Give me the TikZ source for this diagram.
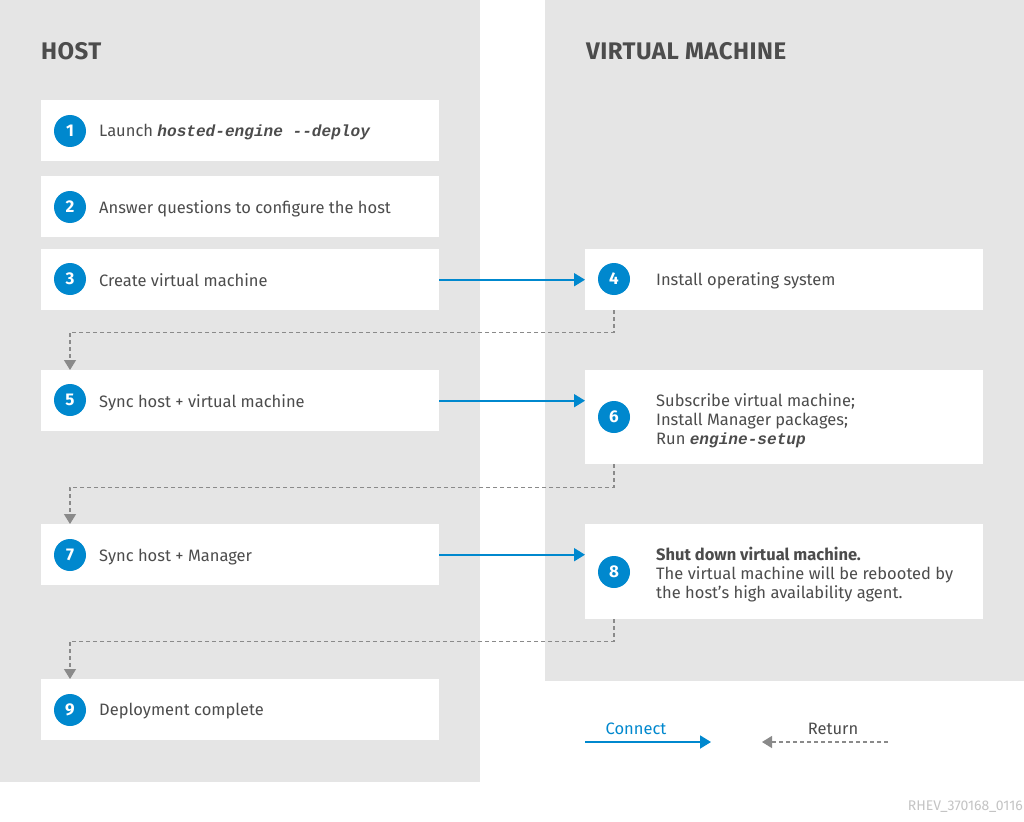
\documentclass[tikz,border=0pt]{standalone}
\usepackage{fontspec}
\setmainfont{Fira Sans}
\newfontfamily\monofont{Liberation Mono}
\newfontfamily\headfont[LetterSpace=2]{Fira Sans}
\usetikzlibrary{arrows.meta}
\definecolor{panel}{HTML}{E5E5E5}
\definecolor{txt}{HTML}{4C4C4C}
\definecolor{rhblue}{HTML}{0088CE}
\definecolor{retgray}{HTML}{8A8A8A}
\definecolor{faint}{HTML}{C4C4C4}
\newcommand{\cmd}[1]{{\fontsize{16.1}{19}\monofont\bfseries\itshape #1}}
\tikzset{
  box/.style={fill=white, draw=none, minimum width=398pt, anchor=north west, inner sep=0pt},
  num/.style={circle, fill=rhblue, minimum size=32pt, inner sep=0pt, text=white, font=\fontsize{17}{19}\selectfont\bfseries},
  lbl/.style={anchor=west, inner sep=0pt, yshift=-1.5pt, text=txt, align=left, font=\fontsize{16.5}{19}\selectfont},
  head/.style={anchor=base west, inner sep=0pt, text=txt, font=\fontsize{24}{27}\headfont\bfseries},
  connect/.style={draw=rhblue, line width=1.8pt, -{Triangle[length=11pt,width=13pt]}},
  ret/.style={draw=retgray, line width=1.3pt, dash pattern=on 4pt off 3pt, -{Triangle[length=10pt,width=12pt]}},
}
\begin{document}
\begin{tikzpicture}[x=1pt,y=-1pt]
\useasboundingbox (0,0) rectangle (1024,821);
\fill[white] (0,0) rectangle (1024,821);
\fill[panel] (0,0) rectangle (480,782);
\fill[panel] (545,0) rectangle (1024,681);

\node[head] (hhost) at (41,60) {HOST};
\node[head] (hvm) at (586,60) {VIRTUAL MACHINE};

% left boxes
\node[box, minimum height=61pt] (b1) at (41,100) {};
\node[box, minimum height=61pt] (b2) at (41,176) {};
\node[box, minimum height=61pt] (b3) at (41,249) {};
\node[box, minimum height=61pt] (b5) at (41,370) {};
\node[box, minimum height=61pt] (b7) at (41,524) {};
\node[box, minimum height=61pt] (b9) at (41,679) {};
% right boxes
\node[box, minimum height=61pt] (b4) at (585,249) {};
\node[box, minimum height=94pt] (b6) at (585,370) {};
\node[box, minimum height=95pt] (b8) at (585,524) {};

% numbers
\node[num] (n1) at (70,131) {1};
\node[num] (n2) at (70,207) {2};
\node[num] (n3) at (70,279) {3};
\node[num] (n5) at (70,400) {5};
\node[num] (n7) at (70,555) {7};
\node[num] (n9) at (70,710) {9};
\node[num] (n4) at (614,279) {4};
\node[num] (n6) at (614,417) {6};
\node[num] (n8) at (614,572) {8};

% labels
\node[lbl] (t1) at (99,131) {Launch \cmd{hosted-engine --deploy}};
\node[lbl] (t2) at (99,207) {Answer questions to configure the host};
\node[lbl] (t3) at (99,279) {Create virtual machine};
\node[lbl] (t5) at (99,401) {Sync host + virtual machine};
\node[lbl] (t7) at (99,556) {Sync host + Manager};
\node[lbl] (t9) at (99,710) {Deployment complete};
\node[lbl] (t4) at (656,279) {Install operating system};
\node[lbl] (t6) at (656,419) {Subscribe virtual machine;\\Install Manager packages;\\Run \cmd{engine-setup}};
\node[lbl] (t8) at (656,573) {\textbf{Shut down virtual machine.}\\The virtual machine will be rebooted by\\the host's high availability agent.};

% connect arrows
\draw[connect] (b3.east) -- (b4.west);
\draw[connect] (b5.east) -- (b5.east -| b6.west);
\draw[connect] (b7.east) -- (b7.east -| b8.west);

% return arrows
\draw[ret] (n4.center |- b4.south) -- ++(0,22) -| (n5.center |- b5.north);
\draw[ret] (n6.center |- b6.south) -- ++(0,23) -| (n7.center |- b7.north);
\draw[ret] (n8.center |- b8.south) -- ++(0,22) -| (n9.center |- b9.north);

% legend
\node[lbl, anchor=center, text=rhblue] (lc) at (636,727) {Connect};
\node[lbl, anchor=center] (lr) at (833,727) {Return};
\coordinate (c1) at (585,742);
\coordinate (c2) at (711,742);
\coordinate (r1) at (888,742);
\coordinate (r2) at (762,742);
\draw[connect] (c1) -- (c2);
\draw[ret] (r1) -- (r2);

\node[anchor=east, inner sep=0pt, text=faint, font=\fontsize{14}{16}\selectfont] (id) at (1023,807) {RHEV\_370168\_0116};
\end{tikzpicture}
\end{document}
